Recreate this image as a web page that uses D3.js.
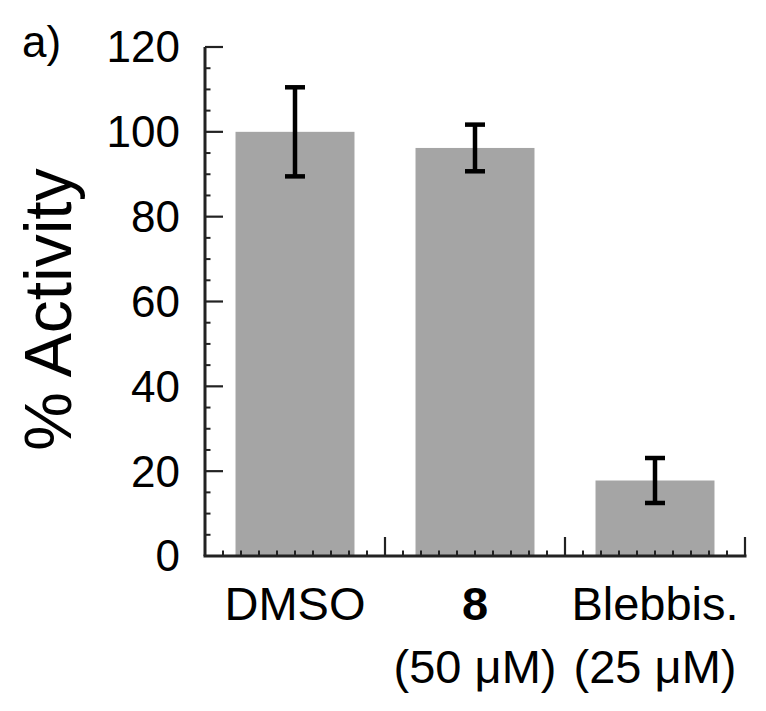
<!DOCTYPE html>
<html>
<head>
<meta charset="utf-8">
<script src="https://cdn.jsdelivr.net/npm/d3@7"></script>
<style>
  html, body { margin: 0; padding: 0; background: #fff; }
  svg text { font-family: "Liberation Sans", Arial, Helvetica, sans-serif; fill: #000; }
</style>
</head>
<body>
<svg id="chart" width="766" height="711"></svg>
<script>
// ---- data ----
const categories = ["DMSO", "8", "Blebbis."];
const subLabels = ["", "(50 μM)", "(25 μM)"];
const boldLabel = [false, true, false];
const activity = [100, 96.2, 17.8];
const errorBars = [10.5, 5.5, 5.3];
const yTicks = [0, 20, 40, 60, 80, 100, 120];
const yLabel = "% Activity";
const panelLabel = "a)";

// ---- layout ----
const svg = d3.select("#chart");
const mLeft = 205, mRight = 745, mTop = 47, mBottom = 556;

const x = d3.scaleBand().domain(categories).range([mLeft, mRight])
  .paddingInner(0.339).paddingOuter(0.1695);
const xLin = d3.scaleLinear().domain([0, categories.length]).range([mLeft, mRight]);
const y = d3.scaleLinear().domain([0, 120]).range([mBottom, mTop]);

// bars
svg.append("g").selectAll("rect").data(categories).join("rect")
  .attr("x", d => x(d))
  .attr("width", x.bandwidth())
  .attr("y", (d, i) => y(activity[i]))
  .attr("height", (d, i) => y(0) - y(activity[i]))
  .attr("fill", "#a5a5a5");

// error bars
const eg = svg.append("g").attr("stroke", "#000").attr("stroke-width", 4.5).attr("fill", "none");
categories.forEach((c, i) => {
  const cx = x(c) + x.bandwidth() / 2;
  const hi = y(activity[i] + errorBars[i]);
  const lo = y(activity[i] - errorBars[i]);
  eg.append("line").attr("x1", cx).attr("x2", cx).attr("y1", hi).attr("y2", lo);
  eg.append("line").attr("x1", cx - 10).attr("x2", cx + 10).attr("y1", hi).attr("y2", hi);
  eg.append("line").attr("x1", cx - 10).attr("x2", cx + 10).attr("y1", lo).attr("y2", lo);
});

// axes
const ax = svg.append("g").attr("stroke", "#222");
ax.append("line").attr("x1", mLeft).attr("x2", mLeft).attr("y1", y(120)).attr("y2", y(0)).attr("stroke-width", 3);
ax.append("line").attr("x1", mLeft - 1.5).attr("x2", mRight + 1.5).attr("y1", y(0)).attr("y2", y(0)).attr("stroke-width", 3);

// y major ticks
ax.selectAll(".ymaj").data(yTicks.filter(t => t > 0)).join("line")
  .attr("x1", mLeft).attr("x2", mLeft + 18)
  .attr("y1", d => y(d)).attr("y2", d => y(d)).attr("stroke-width", 2.2);
// y minor ticks
const yMinor = d3.range(5, 120, 5).filter(v => v % 20 !== 0);
ax.selectAll(".ymin").data(yMinor).join("line")
  .attr("x1", mLeft).attr("x2", mLeft + 5.5)
  .attr("y1", d => y(d)).attr("y2", d => y(d)).attr("stroke-width", 2);

// x major ticks
const xMajor = d3.range(1, categories.length + 1);
ax.selectAll(".xmaj").data(xMajor).join("line")
  .attr("x1", d => xLin(d)).attr("x2", d => xLin(d))
  .attr("y1", y(0)).attr("y2", y(0) - 19).attr("stroke-width", 2.2);
// x minor ticks
const xMinor = d3.range(1, categories.length * 10).filter(k => k % 10 !== 0).map(k => k / 10);
ax.selectAll(".xmin").data(xMinor).join("line")
  .attr("x1", d => xLin(d)).attr("x2", d => xLin(d))
  .attr("y1", y(0)).attr("y2", y(0) - 5.5).attr("stroke-width", 2);

// y tick labels
svg.append("g").selectAll("text").data(yTicks).join("text")
  .attr("x", mLeft - 25).attr("y", d => y(d))
  .attr("dy", "0.35em")
  .attr("text-anchor", "end")
  .attr("font-size", 44)
  .text(d => d);

// x labels
const xl = svg.append("g");
categories.forEach((c, i) => {
  const cx = x(c) + x.bandwidth() / 2;
  xl.append("text").attr("x", cx).attr("y", 620).attr("text-anchor", "middle")
    .attr("font-size", 47).attr("font-weight", boldLabel[i] ? "bold" : "normal").text(c);
  if (subLabels[i]) {
    xl.append("text").attr("x", cx).attr("y", 683).attr("text-anchor", "middle")
      .attr("font-size", 47).text(subLabels[i]);
  }
});

// y axis title
svg.append("text")
  .attr("transform", `translate(71, ${(y(0) + y(120)) / 2 + 8}) rotate(-90)`)
  .attr("text-anchor", "middle")
  .attr("font-size", 66)
  .text(yLabel);

// panel label
svg.append("text").attr("x", 22).attr("y", 57).attr("font-size", 44).text(panelLabel);
</script>
</body>
</html>
